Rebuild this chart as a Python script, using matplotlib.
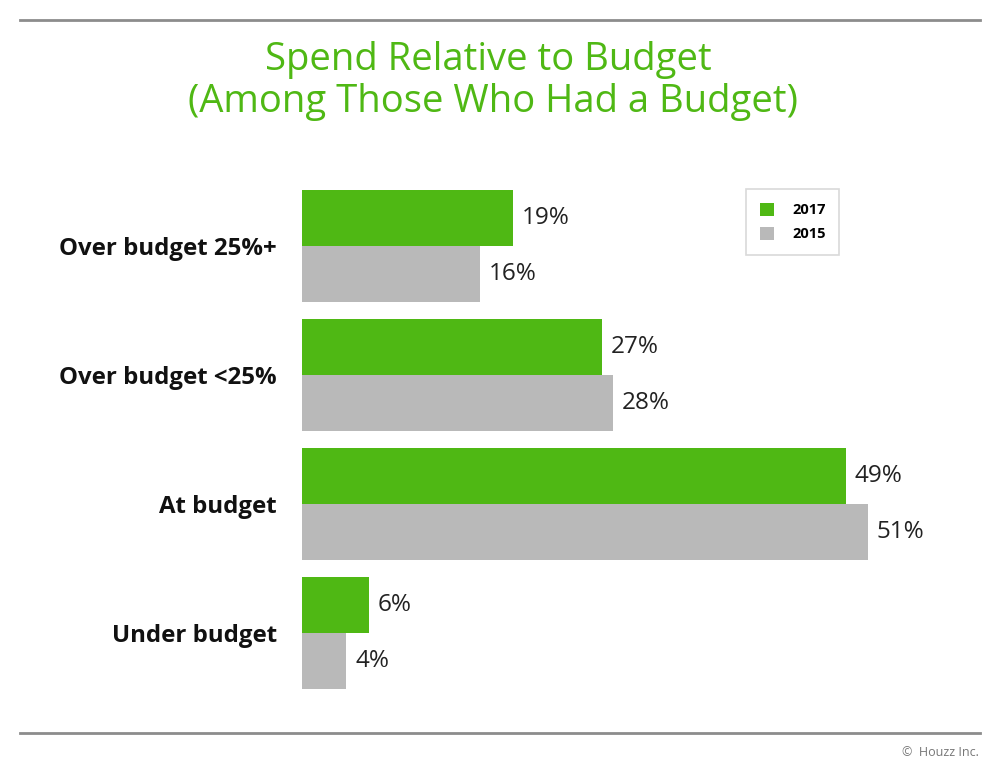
import matplotlib
matplotlib.use('Agg')
import matplotlib.pyplot as plt
import numpy as np

# data
categories = ['Over budget 25%+', 'Over budget <25%', 'At budget', 'Under budget']
values_2017 = [19, 27, 49, 6]
values_2015 = [16, 28, 51, 4]
series_names = ['2017', '2015']

green = '#4fb814'
gray = '#b9b9b9'

plt.rcParams['font.family'] = ['Open Sans', 'DejaVu Sans']

fig = plt.figure(figsize=(10, 7.76), dpi=100)

# horizontal rules top and bottom
fig.add_artist(plt.Line2D([0.02, 0.98], [1 - 19.5 / 776, 1 - 19.5 / 776], color='#8c8c8c', lw=2))
fig.add_artist(plt.Line2D([0.02, 0.98], [1 - 733 / 776, 1 - 733 / 776], color='#8c8c8c', lw=2))

# title
fig.text(0.488, 1 - 60 / 776, 'Spend Relative to Budget', ha='center', va='center',
         fontsize=27.5, color=green)
fig.text(0.493, 1 - 102 / 776, '(Among Those Who Had a Budget)', ha='center', va='center',
         fontsize=27.5, color=green)

# footer
fig.text(0.979, 1 - 752 / 776, '\u00a9  Houzz Inc.', ha='right', va='center', fontsize=9, color='#777777')

ax = fig.add_axes([0.302, 1 - 689 / 776, 0.666, 499 / 776])

y = np.arange(len(categories))
h = 56 / 129
ax.barh(y - h / 2, values_2017, height=h, color=green, label=series_names[0])
ax.barh(y + h / 2, values_2015, height=h, color=gray, label=series_names[1])

for yi, v in zip(y, values_2017):
    ax.text(v + 0.8, yi - h / 2, f'{v}%', va='center', ha='left', fontsize=17.5, color='#222222')
for yi, v in zip(y, values_2015):
    ax.text(v + 0.8, yi + h / 2, f'{v}%', va='center', ha='left', fontsize=17.5, color='#222222')

ax.set_xlim(0, 60)
ax.set_ylim(len(categories) - 1 + h, -h)
ax.set_yticks(y)
ax.set_yticklabels(categories, fontsize=17.3, fontweight='bold', color='#111111')
ax.tick_params(axis='y', length=0, pad=18)
ax.set_xticks([])
for s in ax.spines.values():
    s.set_visible(False)

leg = ax.legend(loc='upper left', bbox_to_anchor=((746 - 302) / 666, 1 + 1 / 499), frameon=True,
                fancybox=False, edgecolor='#d0d0d0', handlelength=1.0, borderaxespad=0,
                handleheight=1.0, borderpad=0.95, labelspacing=0.65, handletextpad=1.2,
                prop={'weight': 'bold', 'size': 10.5})
leg.get_frame().set_linewidth(1.2)

fig.savefig('out.png', dpi=100, facecolor='white')
